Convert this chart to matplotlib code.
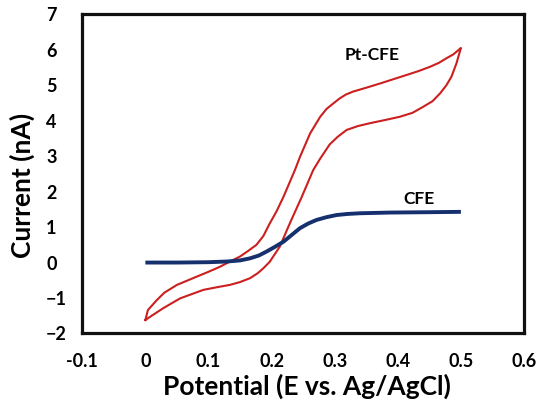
import matplotlib
matplotlib.use("Agg")
import matplotlib.pyplot as plt

# Pt-CFE cyclic voltammogram: forward sweep (0 -> 0.5 V) and reverse sweep (0.5 -> 0 V)
pt_fwd_x = [0.000, 0.010, 0.028, 0.055, 0.092, 0.115, 0.134, 0.150, 0.166, 0.178,
            0.187, 0.197, 0.213, 0.229, 0.248, 0.266, 0.277, 0.292, 0.305, 0.319,
            0.337, 0.356, 0.380, 0.403, 0.423, 0.440, 0.455, 0.467, 0.477, 0.485,
            0.493, 0.500]
pt_fwd_y = [-1.62, -1.50, -1.29, -1.01, -0.77, -0.69, -0.63, -0.55, -0.44, -0.30,
            -0.16, 0.02, 0.45, 1.11, 1.86, 2.61, 2.93, 3.33, 3.55, 3.74,
            3.85, 3.93, 4.02, 4.11, 4.22, 4.39, 4.55, 4.77, 5.00, 5.24,
            5.62, 6.05]
pt_rev_x = [0.500, 0.496, 0.488, 0.477, 0.465, 0.451, 0.433, 0.414, 0.393, 0.372,
            0.350, 0.329, 0.318, 0.308, 0.298, 0.287, 0.277, 0.261, 0.245, 0.237,
            0.219, 0.208, 0.197, 0.187, 0.176, 0.163, 0.150, 0.134, 0.118, 0.100,
            0.081, 0.050, 0.030, 0.018, 0.004, 0.000]
pt_rev_y = [6.05, 5.99, 5.87, 5.76, 5.63, 5.52, 5.40, 5.29, 5.17, 5.05,
            4.93, 4.82, 4.74, 4.63, 4.49, 4.33, 4.11, 3.64, 2.98, 2.61,
            1.86, 1.45, 1.10, 0.75, 0.50, 0.33, 0.17, 0.03, -0.12, -0.26,
            -0.40, -0.63, -0.85, -1.06, -1.34, -1.62]

# bare CFE response
cfe_x = [0.0, 0.05, 0.10, 0.13, 0.15, 0.166, 0.18, 0.192, 0.205, 0.219, 0.232,
         0.245, 0.258, 0.271, 0.287, 0.303, 0.320, 0.340, 0.388, 0.45, 0.50]
cfe_y = [0.0, 0.0, 0.01, 0.03, 0.06, 0.12, 0.20, 0.31, 0.44, 0.59, 0.78,
         0.97, 1.10, 1.20, 1.28, 1.34, 1.37, 1.39, 1.41, 1.42, 1.43]

x_ticks = [-0.1, 0, 0.1, 0.2, 0.3, 0.4, 0.5, 0.6]
x_tick_labels = ["-0.1", "0", "0.1", "0.2", "0.3", "0.4", "0.5", "0.6"]
y_ticks = [-2, -1, 0, 1, 2, 3, 4, 5, 6, 7]

plt.rcParams["font.family"] = ["Lato", "DejaVu Sans"]
plt.rcParams["font.weight"] = "bold"

fig = plt.figure(figsize=(5.42, 4.03), dpi=100)
ax = fig.add_axes([0.1518, 0.1725, 0.8150, 0.7920])

ax.plot(pt_fwd_x + pt_rev_x, pt_fwd_y + pt_rev_y, color="#CC1F1F", lw=1.5)
ax.plot(cfe_x, cfe_y, color="#16306E", lw=2.8, solid_capstyle="butt")

ax.text(0.359, 5.85, "Pt-CFE", ha="center", va="center", fontsize=12.5, fontweight="bold")
ax.text(0.434, 1.78, "CFE", ha="center", va="center", fontsize=12.5, fontweight="bold")

ax.set_xlim(-0.1, 0.6)
ax.set_ylim(-2, 7)
ax.set_xticks(x_ticks)
ax.set_xticklabels(x_tick_labels)
ax.set_yticks(y_ticks)
ax.tick_params(axis="both", length=0, labelsize=13)
ax.tick_params(axis="x", pad=14)
ax.tick_params(axis="y", pad=26)
for lbl in ax.get_yticklabels():
    lbl.set_horizontalalignment("left")
for lbl in ax.get_xticklabels() + ax.get_yticklabels():
    lbl.set_fontweight("bold")

for spine in ax.spines.values():
    spine.set_linewidth(2.3)
    spine.set_color("#111111")

ax.set_ylabel("Current (nA)", fontsize=19, fontweight="bold", va="center")
ax.yaxis.set_label_coords(-0.1365, 0.465)
ax.set_xlabel("Potential (E vs. Ag/AgCl)", fontsize=19, fontweight="bold", va="baseline")
ax.xaxis.set_label_coords(0.508, -0.193)

fig.savefig("out.png", dpi=100)
